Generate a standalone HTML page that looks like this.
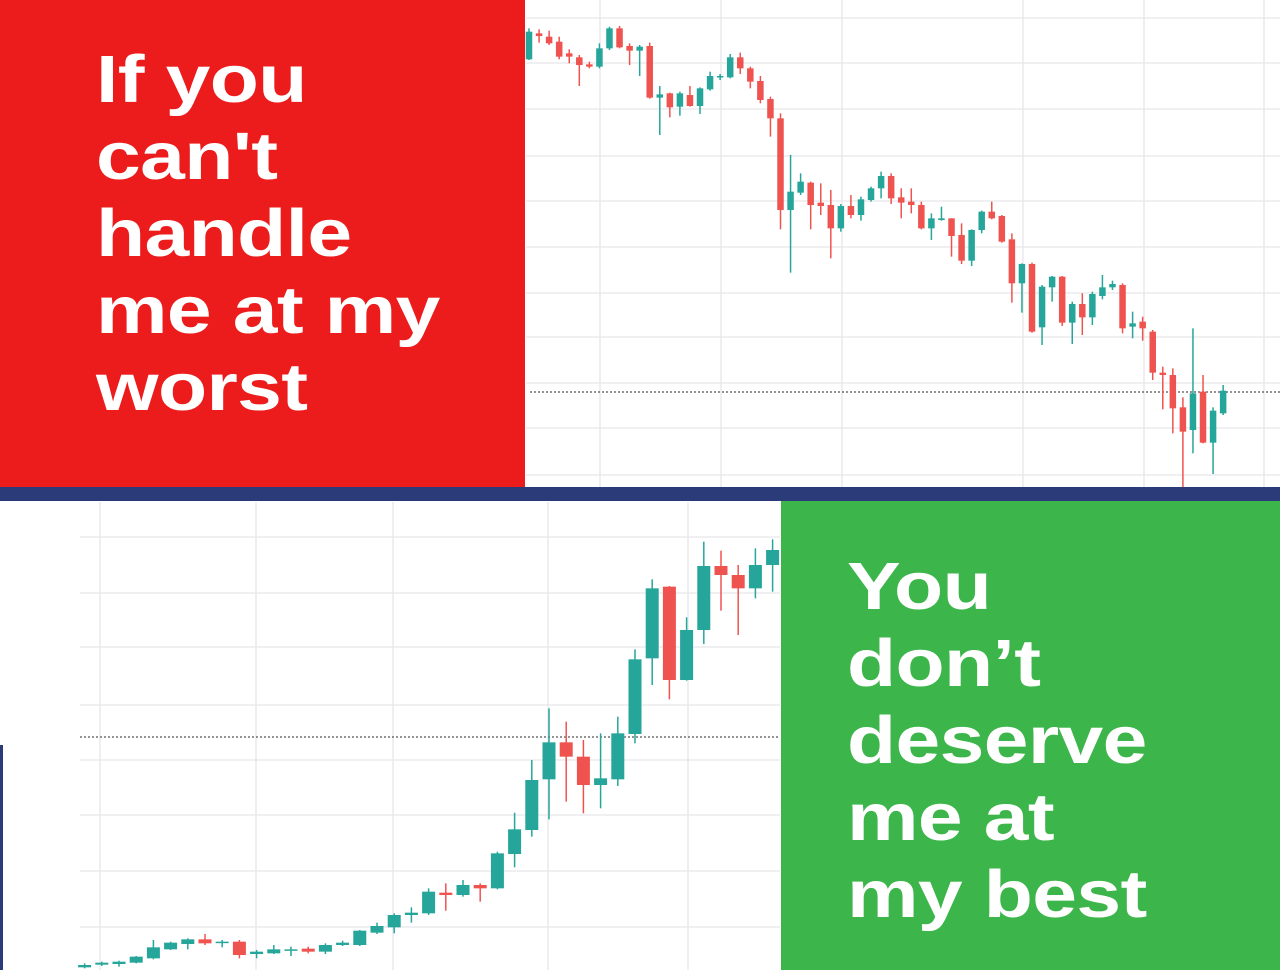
<!DOCTYPE html>
<html><head><meta charset="utf-8">
<style>
html,body{margin:0;padding:0;background:#fff;}
#wrap{position:relative;width:1280px;height:970px;overflow:hidden;font-family:"Liberation Sans",Arial,sans-serif;}
svg{position:absolute;left:0;top:0;}
.txt{position:absolute;color:#fff;font-weight:bold;font-size:67px;line-height:77px;transform:scaleX(1.2);transform-origin:left top;white-space:nowrap;letter-spacing:-0.5px;}
</style></head>
<body>
<div id="wrap">
<svg id="chart" width="1280" height="970"></svg>
<div class="txt" style="left:96px;top:41px;">If you<br>can't<br>handle<br>me at my<br>worst</div>
<div class="txt" style="left:847px;top:548px;">You<br>don’t<br>deserve<br>me at<br>my best</div>
</div>
<script>
// Top chart (falling) — values in chart units (larger = lower price)
const topOpen  = [178,100,110,125,160,172,193,200,145,85,138,152,138,293,280,320,285,318,268,232,232,172,205,243,297,355,630,578,548,608,615,685,618,645,600,565,528,592,605,615,685,660,655,705,782,690,635,648,718,850,792,982,862,830,968,912,952,888,862,855,980,965,995,1118,1125,1222,1290,1175,1328,1240];
const topClose = [95,108,130,170,170,195,200,145,85,142,152,140,293,283,322,280,318,265,228,228,172,205,245,300,355,630,575,545,615,618,685,618,645,598,565,528,595,608,615,685,655,655,708,782,690,635,655,725,850,792,995,860,830,968,912,952,882,862,852,985,970,985,1118,1125,1225,1295,1180,1328,1232,1172];
const topHigh  = [85,88,92,110,148,165,185,130,80,78,130,135,128,258,278,275,258,262,215,222,162,158,200,228,290,340,465,520,545,550,570,612,585,590,560,515,520,565,565,605,640,620,655,670,688,632,605,645,700,790,788,855,828,828,905,880,875,825,842,850,935,950,990,1100,1105,1192,985,1125,1222,1155];
const topLow   = [180,128,135,178,190,258,205,205,150,145,195,228,296,405,352,347,320,342,272,240,235,222,265,310,410,688,818,585,688,645,775,695,655,662,605,595,612,655,640,688,720,662,770,792,798,700,658,728,908,938,998,1035,905,978,1032,1005,975,898,870,1000,1015,1022,1140,1228,1300,1470,1360,1330,1422,1245];
// Bottom chart (rising)
const botOpen  = [1432,1424,1422,1418,1405,1378,1362,1348,1358,1355,1392,1390,1382,1376,1385,1365,1365,1328,1312,1275,1270,1208,1215,1185,1195,1092,1020,868,757,800,885,868,732,505,290,570,420,228,255,295,225];
const botClose = [1425,1418,1415,1400,1372,1358,1348,1360,1355,1395,1385,1378,1378,1385,1365,1358,1322,1308,1275,1268,1205,1215,1185,1195,1090,1018,870,757,800,885,865,730,508,295,570,420,228,255,295,225,180];
const botHigh  = [1420,1415,1412,1398,1350,1355,1345,1332,1350,1350,1380,1365,1370,1370,1360,1352,1320,1298,1270,1252,1195,1180,1170,1180,1085,968,810,655,695,750,730,680,478,268,288,382,155,182,225,175,148];
const botLow   = [1435,1428,1430,1420,1408,1380,1378,1365,1372,1405,1405,1392,1398,1390,1392,1368,1368,1332,1330,1298,1275,1262,1220,1235,1198,1132,1040,988,935,970,955,888,760,585,628,572,462,362,435,325,305];

const NS='http://www.w3.org/2000/svg';
const svg=document.getElementById('chart');
function el(tag,attrs,parent){const e=document.createElementNS(NS,tag);for(const k in attrs)e.setAttribute(k,attrs[k]);(parent||svg).appendChild(e);return e;}

// top axis functions
const topX=i=>529+i*10.06;
const topY=v=>v/3;
const botX=i=>84.6+i*17.2;
const botY=v=>490+v/3;

// panels
let r=el('rect',{x:0,y:0,width:525,height:488,fill:'#ec1c1c'});


r=el('rect',{x:781,y:500,width:499,height:470,fill:'#3cb54a'});



// top grid
const tg=el('g',{stroke:'#e6e6ea','stroke-width':1.3});


[600,721,842,1023,1144,1264].forEach(x=>el('line',{x1:x,y1:0,x2:x,y2:487},tg));
[18,63,109,156,201,247,293,337,383,428,475].forEach(y=>el('line',{x1:526,y1:y,x2:1280,y2:y},tg));
let d=el('line',{x1:530,y1:392,x2:1280,y2:392,stroke:'#555','stroke-width':1.3,'stroke-dasharray':'2,2'});



// bottom grid
const bg=el('g',{stroke:'#e6e6ea','stroke-width':1.3});


[100,256,393,548,688].forEach(x=>el('line',{x1:x,y1:502,x2:x,y2:970},bg));
[537,593,647,705,760,815,871,927].forEach(y=>el('line',{x1:80,y1:y,x2:780,y2:y},bg));
d=el('line',{x1:80,y1:737,x2:780,y2:737,stroke:'#555','stroke-width':1.3,'stroke-dasharray':'2,2'});



function candles(O,C,H,L,X,Y,w,name){
  const g=el('g',{});
  
  
  for(let i=0;i<O.length;i++){
    const up=C[i]<=O[i];
    const col=up?'#26a69a':'#ef5350';
    const x=X(i);
    const c=el('g',{},g);
    
    
    el('line',{x1:x,x2:x,y1:Y(H[i]),y2:Y(L[i]),stroke:col,'stroke-width':1.5},c);
    const t=Y(Math.min(O[i],C[i])),b=Y(Math.max(O[i],C[i]));
    el('rect',{x:x-w/2,y:t,width:w,height:Math.max(1.5,b-t),fill:col},c);
  }
}
candles(topOpen,topClose,topHigh,topLow,topX,topY,6.5,'falling-candles');
candles(botOpen,botClose,botHigh,botLow,botX,botY,13,'rising-candles');

// divider
r=el('rect',{x:0,y:487,width:1280,height:14,fill:'#2b3a78'});


r=el('rect',{x:0,y:745,width:3,height:225,fill:'#2b3a78'});


</script>
</body></html>
